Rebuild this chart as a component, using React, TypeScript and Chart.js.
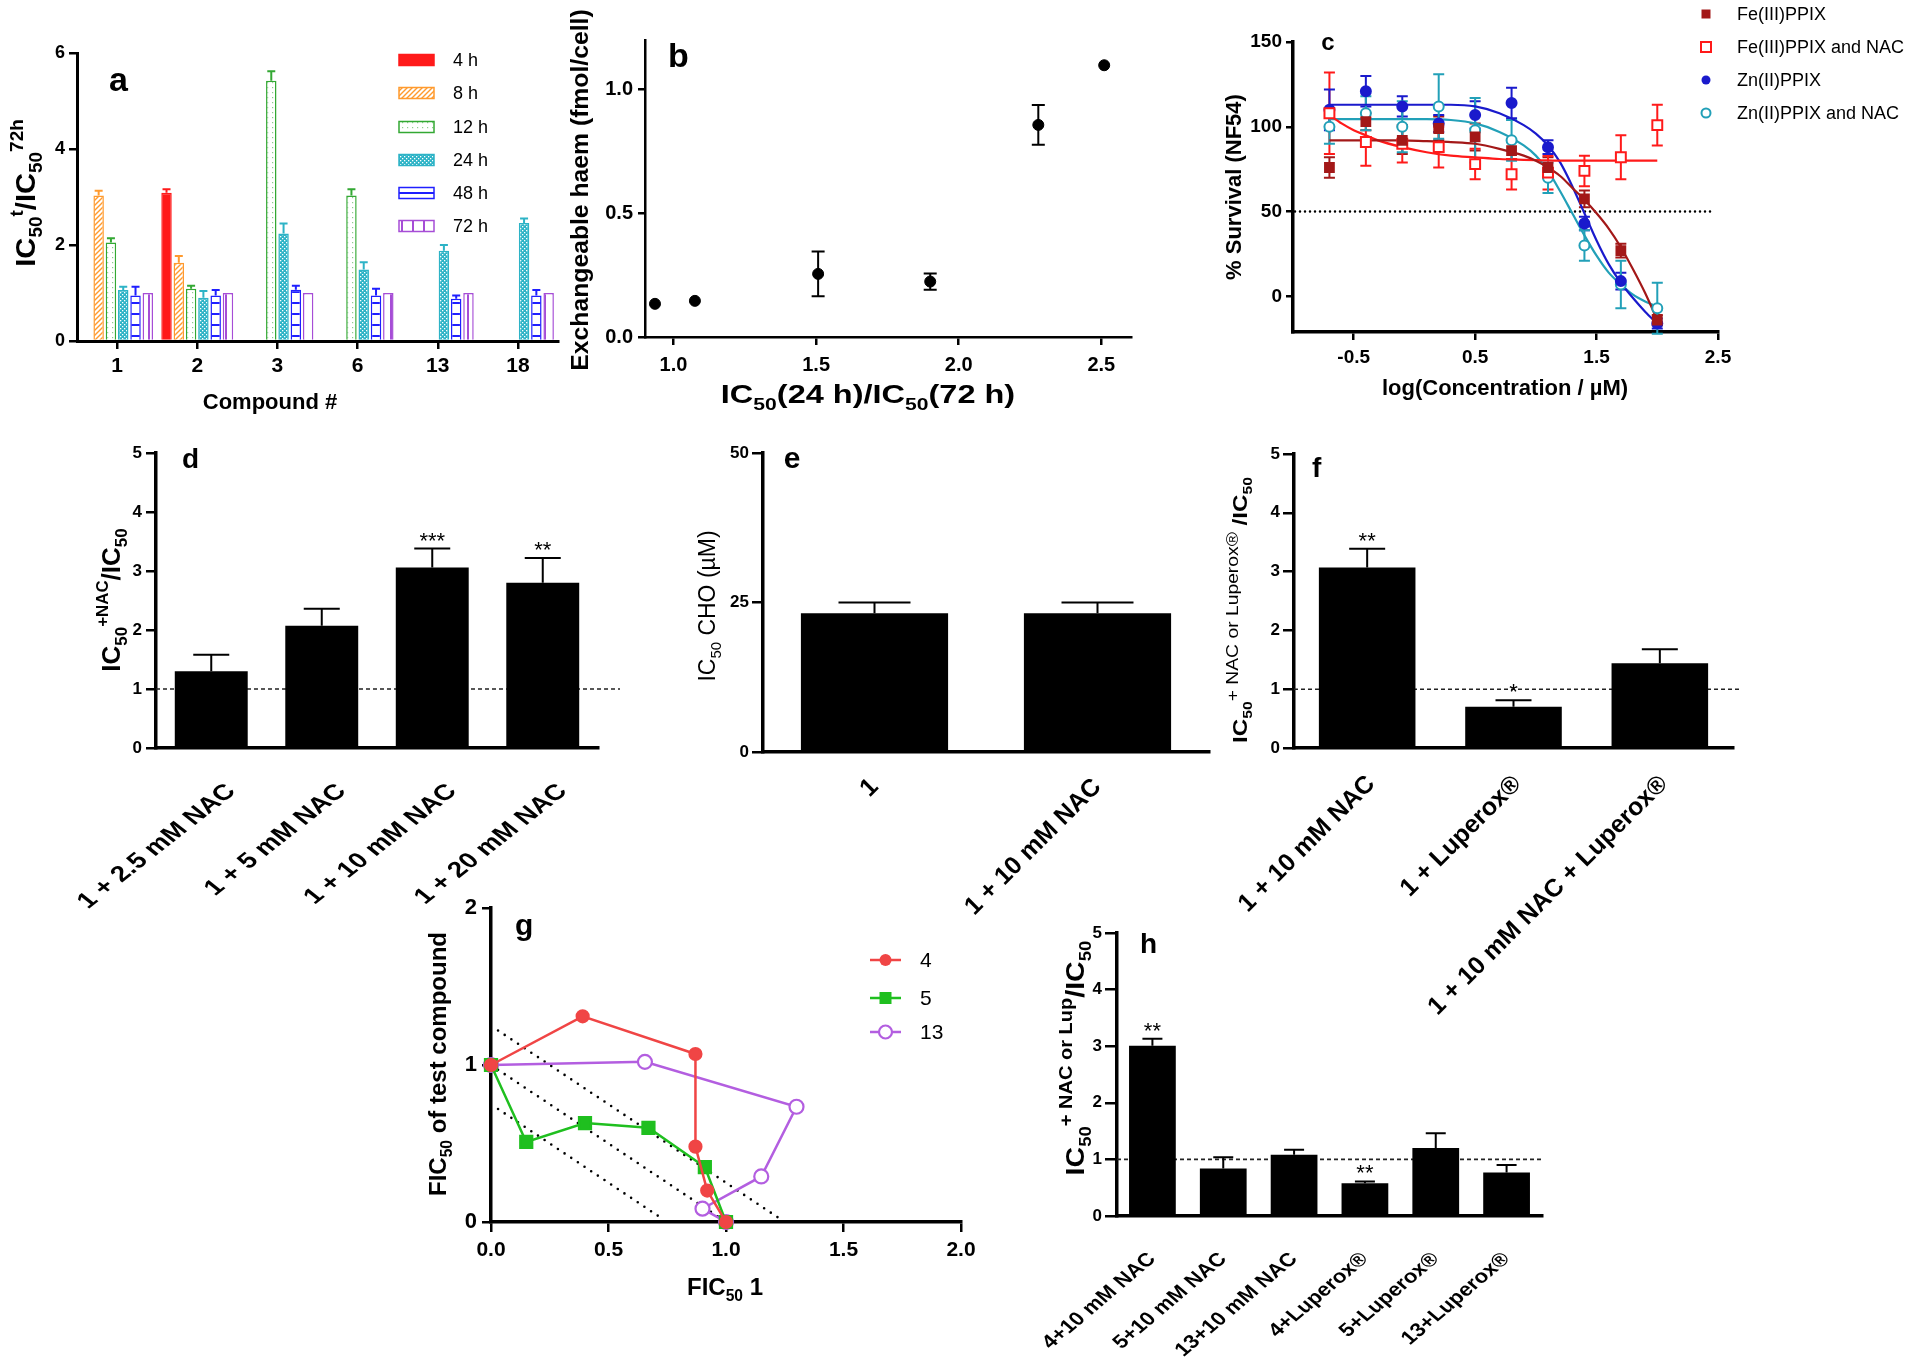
import React, { useEffect, useRef } from 'react';
import { Chart, registerables } from 'chart.js';

Chart.register(...registerables);

const FONT = "'Liberation Sans', Arial, Helvetica, sans-serif";

/* ================= DATA ================= */
// (a) IC50(t)/IC50(72h)
const aCompounds = ['1', '2', '3', '6', '13', '18'];
const aTimes = ['4 h', '8 h', '12 h', '24 h', '48 h', '72 h'];
const a4h = [null, 3.09, null, null, null, null];
const a4hErr = [null, 3.16, null, null, null, null];
const a8h = [3.03, 1.63, null, null, null, null];
const a8hErr = [3.13, 1.77, null, null, null, null];
const a12h = [2.05, 1.09, 5.42, 3.03, null, null];
const a12hErr = [2.14, 1.15, 5.62, 3.16, null, null];
const a24h = [1.06, 0.9, 2.24, 1.49, 1.88, 2.46];
const a24hErr = [1.13, 1.04, 2.45, 1.64, 2.0, 2.55];
const a48h = [0.95, 0.95, 1.07, 0.95, 0.88, 0.95];
const a48hErr = [1.13, 1.06, 1.15, 1.09, 0.95, 1.06];
const a72h = [1, 1, 1, 1, 1, 1];
const aYTicks = [0, 2, 4, 6];

// (b) exchangeable haem
const bRatio = [0.935, 1.075, 1.507, 1.9, 2.279, 2.51];
const bHaem = [0.134, 0.146, 0.255, 0.224, 0.857, 1.098];
const bHaemErr = [0, 0, 0.09, 0.033, 0.08, 0];
const bXTicks = [1.0, 1.5, 2.0, 2.5];
const bYTicks = [0, 0.5, 1.0];

// (c) % survival
const cLegend = ['Fe(III)PPIX', 'Fe(III)PPIX and NAC', 'Zn(II)PPIX', 'Zn(II)PPIX and NAC'];
const cLogConc = [-0.7, -0.4, -0.1, 0.2, 0.5, 0.8, 1.1, 1.4, 1.7, 2.0];
const cFe = [76, 103, 92, 99, 94, 86, 76, 57.5, 27, -14];
const cFeErr = [6, 5, 8, 7, 8, 5, 6, 5, 4, 3];
const cFeNAC = [108, 91, 90, 88, 78, 72, 73, 74, 82, 101];
const cFeNACErr = [24, 14, 11, 12, 9, 9, 10, 9, 13, 12];
const cZn = [110, 121, 112, 102, 107, 114, 88, 43, 9, -16];
const cZnErr = [12, 9, 6, 5, 8, 9, 4, 4, 5, 3];
const cZnNAC = [100, 108, 100, 112, 98, 92, 70, 30, 7, -7];
const cZnNACErr = [10, 10, 15, 19, 19, 12, 9, 9, 14, 15];
const cFitX = [-0.7, -0.6, -0.5, -0.4, -0.3, -0.1, 0.1, 0.3, 0.5, 0.7, 0.9, 1.0, 1.1, 1.2, 1.3, 1.4, 1.5, 1.6, 1.7, 1.8, 1.9, 2.0];
const cFeFit = [92, 92, 92, 92, 92, 92, 91.5, 91, 90, 87, 83, 80, 76, 71, 64, 57, 49, 40, 29, 16, 2, -14];
const cFeNACFit = [107, 102, 98, 95, 92, 88, 85, 83, 82, 81, 80.5, 80.3, 80.2, 80, 80, 80, 80, 80, 80, 80, 80, 80];
const cZnFit = [113, 113, 113, 113, 113, 113, 113, 113, 112, 108, 101, 96, 89, 79, 65, 49, 33, 19, 8, -1, -9, -16];
const cZnNACFit = [104.5, 104.5, 104.5, 104.5, 104.5, 104.5, 104.5, 104, 102, 97, 89, 83, 74, 62, 49, 36, 24, 14, 7, 1, -3, -6];
const cRef = 50;
const cXTicks = [-0.5, 0.5, 1.5, 2.5];
const cYTicks = [0, 50, 100, 150];

// (d)
const dLabels = ['1 + 2.5 mM NAC', '1 + 5 mM NAC', '1 + 10 mM NAC', '1 + 20 mM NAC'];
const dValues = [1.3, 2.07, 3.06, 2.8];
const dErrTop = [1.58, 2.36, 3.38, 3.22];
const dStars = ['', '', '***', '**'];
const dRef = 1;

// (e)
const eLabels = ['1', '1 + 10 mM NAC'];
const eValues = [23.2, 23.2];
const eErrTop = [25.0, 25.0];

// (f)
const fLabels = ['1 + 10 mM NAC', '1 + Luperox®', '1 + 10 mM NAC + Luperox®'];
const fValues = [3.07, 0.7, 1.44];
const fErrTop = [3.39, 0.81, 1.68];
const fStars = ['**', '*', ''];
const fRef = 1;

// (g) isobologram
const gLegend = ['4', '5', '13'];
const g4X = [0, 0.39, 0.87, 0.87, 0.92, 1.0];
const g4Y = [1, 1.31, 1.07, 0.48, 0.2, 0];
const g5X = [0, 0.15, 0.4, 0.67, 0.91, 1.0];
const g5Y = [1, 0.51, 0.63, 0.6, 0.35, 0];
const g13X = [0, 0.655, 1.3, 1.15, 0.9, 1.0];
const g13Y = [1, 1.02, 0.734, 0.29, 0.085, 0];
const gIsoX = [[0.03, 1.23], [0.03, 0.97], [0.03, 0.73]];
const gIsoY = [[1.22, 0.02], [0.97, 0.03], [0.72, 0.02]];
const gXTicks = [0, 0.5, 1.0, 1.5, 2.0];
const gYTicks = [0, 1, 2];

// (h)
const hLabels = ['4+10 mM NAC', '5+10 mM NAC', '13+10 mM NAC', '4+Luperox®', '5+Luperox®', '13+Luperox®'];
const hValues = [3.01, 0.84, 1.08, 0.58, 1.2, 0.77];
const hErrTop = [3.13, 1.04, 1.17, 0.61, 1.46, 0.9];
const hStars = ['**', '', '', '**', '', ''];
const hRef = 1;

/* ================= GEOMETRY ================= */
const BOX: any = {
  a: { l: 0, t: 0, w: 600, h: 430 },
  b: { l: 560, t: 0, w: 600, h: 430 },
  c: { l: 1180, t: 0, w: 740, h: 430 },
  d: { l: 0, t: 430, w: 640, h: 500 },
  e: { l: 640, t: 430, w: 580, h: 500 },
  f: { l: 1200, t: 430, w: 600, h: 680 },
  g: { l: 400, t: 880, w: 620, h: 440 },
  h: { l: 1030, t: 900, w: 560, h: 469 },
};
const AREA: any = {
  a: { left: 77, top: 53, right: 558, bottom: 341 },
  b: { left: 645, top: 40, right: 1131, bottom: 337 },
  c: { left: 1293, top: 42, right: 1718, bottom: 332 },
  d: { left: 156, top: 453, right: 598, bottom: 748 },
  e: { left: 763, top: 453, right: 1209, bottom: 752 },
  f: { left: 1294, top: 454, right: 1733, bottom: 748 },
  g: { left: 491, top: 908, right: 961, bottom: 1222 },
  h: { left: 1117, top: 933, right: 1542, bottom: 1216 },
};
const KEYS = ['a', 'b', 'c', 'd', 'e', 'f', 'g', 'h'];

/* ================= HELPERS ================= */
type Seg = { t: string; k?: 'sub' | 'sup'; bold?: boolean; sc?: number };

function drawRich(ctx: any, segs: Seg[], x: number, y: number, size: number, opts: any = {}) {
  const rot = opts.rot || false;
  const align = opts.align || 'center';
  const stretch = opts.stretch || 1;
  const bold = opts.bold === undefined ? true : opts.bold;
  ctx.save();
  ctx.translate(x, y);
  if (rot) ctx.rotate(-Math.PI / 2);
  ctx.scale(stretch, 1);
  ctx.fillStyle = opts.color || '#000';
  ctx.textBaseline = 'alphabetic';
  ctx.textAlign = 'left';
  const fontOf = (s: Seg) => {
    const sz = s.k ? size * (s.sc || 0.65) : size;
    const b = s.bold === undefined ? bold : s.bold;
    return (b ? 'bold ' : '') + sz + 'px ' + FONT;
  };
  let total = 0;
  const widths = segs.map((s) => {
    ctx.font = fontOf(s);
    const w = ctx.measureText(s.t).width;
    total += w;
    return w;
  });
  let cx = align === 'center' ? -total / 2 : align === 'right' ? -total : 0;
  segs.forEach((s, i) => {
    ctx.font = fontOf(s);
    const dy = s.k === 'sub' ? size * 0.25 : s.k === 'sup' ? -size * 0.45 : 0;
    ctx.fillText(s.t, cx, dy);
    cx += widths[i];
  });
  ctx.restore();
}

function makePattern(kind: string, color: string, bg = '#ffffff') {
  const c = document.createElement('canvas');
  const s = kind === 'hlines' || kind === 'vlines' ? 11 : kind === 'check' ? 4 : 5;
  c.width = s;
  c.height = s;
  const x = c.getContext('2d') as CanvasRenderingContext2D;
  x.fillStyle = bg;
  x.fillRect(0, 0, s, s);
  x.strokeStyle = color;
  x.fillStyle = color;
  if (kind === 'diag') {
    x.lineWidth = 1.4;
    x.beginPath();
    x.moveTo(-1, s + 1);
    x.lineTo(s + 1, -1);
    x.moveTo(-1, 1);
    x.lineTo(1, -1);
    x.moveTo(s - 1, s + 1);
    x.lineTo(s + 1, s - 1);
    x.stroke();
  } else if (kind === 'dots') {
    x.globalAlpha = 0.55;
    x.fillRect(2, 2, 1.2, 1.2);
  } else if (kind === 'check') {
    x.fillStyle = '#ffffff';
    x.fillRect(0, 0, 1.3, 1.3);
    x.fillRect(2, 2, 1.3, 1.3);
  } else if (kind === 'hlines') {
    x.fillRect(0, 5, s, 2);
  } else if (kind === 'vlines') {
    x.fillRect(5, 0, 2, s);
  }
  return x.createPattern(c, 'repeat');
}

function baseOptions(k: string) {
  const box = BOX[k];
  const area = AREA[k];
  return {
    responsive: false,
    animation: false,
    devicePixelRatio: 1,
    events: [],
    layout: { padding: { left: 0, bottom: 0, top: area.top - box.t, right: box.l + box.w - area.right } },
    plugins: { legend: { display: false }, tooltip: { enabled: false }, title: { display: false } },
  };
}

function yLinear(k: string, o: any) {
  const box = BOX[k];
  const area = AREA[k];
  return {
    type: 'linear',
    position: 'left',
    min: o.min,
    max: o.max,
    afterFit: (s: any) => {
      s.width = area.left - box.l;
    },
    afterBuildTicks: (s: any) => {
      s.ticks = o.ticks.map((v: number) => ({ value: v }));
    },
    border: { display: true, color: '#000', width: o.bw },
    grid: { display: true, drawOnChartArea: false, drawTicks: true, tickLength: o.tl, color: '#000', lineWidth: 2.5 },
    ticks: {
      color: '#000',
      padding: o.pad,
      autoSkip: false,
      font: { family: FONT, size: o.fs, weight: 'bold' },
      callback: (v: number) => (o.fmt ? o.fmt(v) : String(v)),
    },
  };
}

function xLinear(k: string, o: any) {
  const box = BOX[k];
  const area = AREA[k];
  return {
    type: 'linear',
    position: 'bottom',
    min: o.min,
    max: o.max,
    afterFit: (s: any) => {
      s.height = box.t + box.h - area.bottom;
    },
    afterBuildTicks: (s: any) => {
      s.ticks = o.ticks.map((v: number) => ({ value: v }));
    },
    border: { display: true, color: '#000', width: o.bw },
    grid: { display: true, drawOnChartArea: false, drawTicks: true, tickLength: o.tl, color: '#000', lineWidth: 2.5 },
    ticks: {
      color: '#000',
      padding: o.pad,
      autoSkip: false,
      maxRotation: 0,
      minRotation: 0,
      font: { family: FONT, size: o.fs, weight: 'bold' },
      callback: (v: number) => (o.fmt ? o.fmt(v) : String(v)),
    },
  };
}

function xCategory(k: string, o: any) {
  const box = BOX[k];
  const area = AREA[k];
  return {
    type: 'category',
    position: 'bottom',
    offset: true,
    afterFit: (s: any) => {
      s.height = box.t + box.h - area.bottom;
    },
    border: { display: true, color: '#000', width: o.bw },
    grid: {
      display: !!o.tl,
      offset: false,
      drawOnChartArea: false,
      drawTicks: true,
      tickLength: o.tl || 0,
      color: '#000',
      lineWidth: 2.5,
    },
    ticks: {
      display: o.show !== false,
      color: '#000',
      padding: o.pad || 0,
      autoSkip: false,
      minRotation: o.rot || 0,
      maxRotation: o.rot || 0,
      font: { family: FONT, size: o.fs || 12, weight: 'bold' },
    },
  };
}

const barErrPlugin = {
  id: 'barErr',
  afterDatasetsDraw(chart: any) {
    const ctx = chart.ctx;
    const ys = chart.scales.y;
    chart.data.datasets.forEach((ds: any, di: number) => {
      if (!ds.errTop) return;
      const meta = chart.getDatasetMeta(di);
      ctx.save();
      ctx.strokeStyle = ds.errColor || '#000';
      ctx.lineWidth = ds.errWidth || 2;
      ctx.setLineDash([]);
      meta.data.forEach((el: any, i: number) => {
        const v = ds.errTop[i];
        if (v === null || v === undefined || ds.data[i] === null) return;
        const yTop = ys.getPixelForValue(v);
        const cw = (ds.capW || 10) / 2;
        ctx.beginPath();
        ctx.moveTo(el.x, el.y);
        ctx.lineTo(el.x, yTop);
        ctx.moveTo(el.x - cw, yTop);
        ctx.lineTo(el.x + cw, yTop);
        ctx.stroke();
      });
      ctx.restore();
    });
  },
};

const scatterErrPlugin = {
  id: 'scatterErr',
  beforeDatasetsDraw(chart: any) {
    const ctx = chart.ctx;
    const ys = chart.scales.y;
    chart.data.datasets.forEach((ds: any, di: number) => {
      if (!ds.errY) return;
      const meta = chart.getDatasetMeta(di);
      ctx.save();
      ctx.strokeStyle = ds.errColor || '#000';
      ctx.lineWidth = ds.errWidth || 2;
      meta.data.forEach((pt: any, i: number) => {
        const e = ds.errY[i];
        if (!e) return;
        const v = ds.data[i].y;
        const y1 = ys.getPixelForValue(v + e);
        const y2 = ys.getPixelForValue(v - e);
        const cw = (ds.capW || 10) / 2;
        ctx.beginPath();
        ctx.moveTo(pt.x, y1);
        ctx.lineTo(pt.x, y2);
        ctx.moveTo(pt.x - cw, y1);
        ctx.lineTo(pt.x + cw, y1);
        ctx.moveTo(pt.x - cw, y2);
        ctx.lineTo(pt.x + cw, y2);
        ctx.stroke();
      });
      ctx.restore();
    });
  },
};

function deco(k: string, pre: ((ctx: any, chart: any, X: any, Y: any) => void) | null, post: (ctx: any, chart: any, X: any, Y: any) => void) {
  const box = BOX[k];
  const X = (px: number) => px - box.l;
  const Y = (py: number) => py - box.t;
  return {
    id: 'deco_' + k,
    beforeDatasetsDraw(chart: any) {
      if (pre) {
        chart.ctx.save();
        pre(chart.ctx, chart, X, Y);
        chart.ctx.restore();
      }
    },
    afterDraw(chart: any) {
      chart.ctx.save();
      post(chart.ctx, chart, X, Y);
      chart.ctx.restore();
    },
  };
}

function refLine(ctx: any, chart: any, value: number, xEnd: number) {
  const y = chart.scales.y.getPixelForValue(value);
  ctx.strokeStyle = '#222';
  ctx.lineWidth = 1.6;
  ctx.setLineDash([4, 3]);
  ctx.beginPath();
  ctx.moveTo(chart.chartArea.left, y);
  ctx.lineTo(xEnd, y);
  ctx.stroke();
  ctx.setLineDash([]);
}

function stars(ctx: any, chart: any, marks: string[], errTop: number[]) {
  const meta = chart.getDatasetMeta(0);
  const ys = chart.scales.y;
  ctx.fillStyle = '#000';
  ctx.font = '22px ' + FONT;
  ctx.textAlign = 'center';
  ctx.textBaseline = 'alphabetic';
  marks.forEach((m, i) => {
    if (!m) return;
    const el = meta.data[i];
    ctx.fillText(m, el.x, ys.getPixelForValue(errTop[i]) - 1);
  });
}

// category labels rotated 45 degrees, anchored by their end under each category tick
function rotLabels(ctx: any, chart: any, labels: string[], o: any) {
  const xs = chart.scales.x;
  ctx.fillStyle = '#000';
  ctx.font = 'bold ' + o.fs + 'px ' + FONT;
  ctx.textAlign = 'right';
  ctx.textBaseline = 'middle';
  labels.forEach((t, i) => {
    ctx.save();
    ctx.translate(xs.getPixelForTick(i) + o.dx, chart.chartArea.bottom + o.dy);
    ctx.scale(o.stretch || 1, 1);
    ctx.rotate(-Math.PI / 4);
    ctx.fillText(t, 0, 0);
    ctx.restore();
  });
}

function letter(ctx: any, t: string, x: number, y: number, size: number, align = 'left') {
  ctx.fillStyle = '#000';
  ctx.font = 'bold ' + size + 'px ' + FONT;
  ctx.textAlign = align;
  ctx.textBaseline = 'alphabetic';
  ctx.fillText(t, x, y);
}

/* ================= COMPONENT ================= */
export default function App() {
  const canvases = useRef<(HTMLCanvasElement | null)[]>([]);

  useEffect(() => {
    const charts: Chart[] = [];
    const cv = (k: string) => canvases.current[KEYS.indexOf(k)] as HTMLCanvasElement;

    /* ---------- (a) ---------- */
    const aStyle = [
      { bg: '#ff1a1a', bc: '#ff1a1a' },
      { bg: makePattern('diag', '#ff9a2e'), bc: '#ff9a2e' },
      { bg: makePattern('dots', '#33a833'), bc: '#33a833' },
      { bg: makePattern('check', '#2db3c6', '#2db3c6'), bc: '#2db3c6' },
      { bg: makePattern('hlines', '#1f1fff'), bc: '#1f1fff' },
      { bg: makePattern('vlines', '#a64dd6'), bc: '#a64dd6' },
    ];
    const aSeries = [a4h, a8h, a12h, a24h, a48h, a72h];
    const aErrs = [a4hErr, a8hErr, a12hErr, a24hErr, a48hErr, null];
    charts.push(
      new Chart(cv('a'), {
        type: 'bar',
        data: {
          labels: aCompounds,
          datasets: aSeries.map((d, i) => ({
            label: aTimes[i],
            data: d,
            errTop: aErrs[i],
            errColor: aStyle[i].bc,
            errWidth: 2,
            capW: 8,
            backgroundColor: aStyle[i].bg,
            borderColor: aStyle[i].bc,
            borderWidth: 1.5,
            barPercentage: 0.85,
            categoryPercentage: 0.92,
          })) as any,
        },
        options: {
          ...baseOptions('a'),
          scales: {
            x: xCategory('a', { bw: 3, tl: 8, pad: 5, rot: 0, fs: 21 }),
            y: yLinear('a', { min: 0, max: 6, ticks: aYTicks, bw: 3, tl: 8, pad: 4, fs: 18 }),
          },
        } as any,
        plugins: [
          barErrPlugin,
          deco('a', null, (ctx, chart, X, Y) => {
            letter(ctx, 'a', X(109), Y(91), 34);
            drawRich(
              ctx,
              [{ t: 'IC' }, { t: '50', k: 'sub' }, { t: 't', k: 'sup' }, { t: '/IC' }, { t: '50', k: 'sub' }, { t: '72h', k: 'sup' }],
              X(35),
              Y(193),
              27,
              { rot: true, stretch: 1.08 }
            );
            drawRich(ctx, [{ t: 'Compound #' }], X(270), Y(409), 22);
            const rows = [60, 93, 127, 160, 193, 226];
            chart.data.datasets.forEach((ds: any, i: number) => {
              ctx.fillStyle = ds.backgroundColor;
              ctx.fillRect(X(399), Y(rows[i] - 5.5), 35, 11);
              ctx.strokeStyle = ds.borderColor;
              ctx.lineWidth = 1.5;
              ctx.strokeRect(X(399), Y(rows[i] - 5.5), 35, 11);
              ctx.fillStyle = '#000';
              ctx.font = '18px ' + FONT;
              ctx.textAlign = 'left';
              ctx.textBaseline = 'middle';
              ctx.fillText(ds.label, X(453), Y(rows[i] + 1));
            });
          }),
        ],
      })
    );

    /* ---------- (b) ---------- */
    charts.push(
      new Chart(cv('b'), {
        type: 'scatter',
        data: {
          datasets: [
            {
              label: 'haem',
              data: bRatio.map((x, i) => ({ x, y: bHaem[i] })),
              errY: bHaemErr,
              errColor: '#000',
              errWidth: 2,
              capW: 13,
              pointRadius: 5.5,
              pointBackgroundColor: '#000',
              pointBorderColor: '#000',
              clip: false,
            },
          ] as any,
        },
        options: {
          ...baseOptions('b'),
          scales: {
            x: xLinear('b', { min: 0.9, max: 2.604, ticks: bXTicks, bw: 2.5, tl: 8, pad: 8, fs: 20, fmt: (v: number) => v.toFixed(1) }),
            y: yLinear('b', { min: 0, max: 1.2, ticks: bYTicks, bw: 2.5, tl: 7, pad: 5, fs: 20, fmt: (v: number) => v.toFixed(1) }),
          },
        } as any,
        plugins: [
          scatterErrPlugin,
          deco('b', null, (ctx, chart, X, Y) => {
            letter(ctx, 'b', X(668), Y(67), 34);
            drawRich(ctx, [{ t: 'Exchangeable haem (fmol/cell)' }], X(588), Y(190), 24, { rot: true, stretch: 1.03 });
            drawRich(
              ctx,
              [{ t: 'IC' }, { t: '50', k: 'sub' }, { t: '(24 h)/IC' }, { t: '50', k: 'sub' }, { t: '(72 h)' }],
              X(868),
              Y(403),
              26,
              { stretch: 1.25 }
            );
          }),
        ],
      })
    );

    /* ---------- (c) ---------- */
    const cCol = ['#a31818', '#ff1a1a', '#1a1acc', '#22a0b8'];
    const cPts = [cFe, cFeNAC, cZn, cZnNAC];
    const cErr = [cFeErr, cFeNACErr, cZnErr, cZnNACErr];
    const cFits = [cFeFit, cFeNACFit, cZnFit, cZnNACFit];
    const cMark = [
      { style: 'rect', r: 6.2, fill: true },
      { style: 'rect', r: 7, fill: false },
      { style: 'circle', r: 5, fill: true },
      { style: 'circle', r: 5, fill: false },
    ];
    const cDatasets: any[] = [];
    cPts.forEach((ys, i) => {
      cDatasets.push({
        label: cLegend[i],
        data: cLogConc.map((x, j) => ({ x, y: ys[j] })),
        errY: cErr[i],
        errColor: cCol[i],
        errWidth: 2,
        capW: 11,
        pointStyle: cMark[i].style,
        pointRadius: cMark[i].r,
        pointBackgroundColor: cMark[i].fill ? cCol[i] : '#ffffff',
        pointBorderColor: cCol[i],
        pointBorderWidth: 2,
        clip: false,
      });
    });
    cFits.forEach((ys, i) => {
      cDatasets.push({
        label: cLegend[i] + ' fit',
        data: cFitX.map((x, j) => ({ x, y: ys[j] })),
        showLine: true,
        pointRadius: 0,
        borderColor: cCol[i],
        borderWidth: 2.2,
        cubicInterpolationMode: 'monotone',
        clip: false,
      });
    });
    charts.push(
      new Chart(cv('c'), {
        type: 'scatter',
        data: { datasets: cDatasets },
        options: {
          ...baseOptions('c'),
          scales: {
            x: xLinear('c', { min: -1, max: 2.5, ticks: cXTicks, bw: 3.5, tl: 8, pad: 6, fs: 19 }),
            y: yLinear('c', { min: -21, max: 150, ticks: cYTicks, bw: 3.5, tl: 7, pad: 4, fs: 19 }),
          },
        } as any,
        plugins: [
          scatterErrPlugin,
          deco(
            'c',
            (ctx, chart) => {
              const y = chart.scales.y.getPixelForValue(cRef);
              ctx.strokeStyle = '#000';
              ctx.lineWidth = 2.5;
              ctx.lineCap = 'round';
              ctx.setLineDash([0, 5]);
              ctx.beginPath();
              ctx.moveTo(chart.chartArea.left + 2, y);
              ctx.lineTo(chart.scales.x.getPixelForValue(2.47), y);
              ctx.stroke();
            },
            (ctx, chart, X, Y) => {
              letter(ctx, 'c', X(1328), Y(50), 24, 'center');
              drawRich(ctx, [{ t: '% Survival (NF54)' }], X(1241), Y(187), 22, { rot: true });
              drawRich(ctx, [{ t: 'log(Concentration / µM)' }], X(1505), Y(395), 22);
              const rows = [14, 47, 80, 113];
              rows.forEach((ry, i) => {
                const x = X(1706);
                const y = Y(ry);
                ctx.lineWidth = 2;
                ctx.strokeStyle = cCol[i];
                ctx.fillStyle = cMark[i].fill ? cCol[i] : '#fff';
                ctx.beginPath();
                if (cMark[i].style === 'rect') {
                  const s = cMark[i].fill ? 4.5 : 5;
                  ctx.rect(x - s, y - s, 2 * s, 2 * s);
                } else {
                  ctx.arc(x, y, 4.5, 0, Math.PI * 2);
                }
                ctx.fill();
                if (!cMark[i].fill) ctx.stroke();
                ctx.fillStyle = '#000';
                ctx.font = '18px ' + FONT;
                ctx.textAlign = 'left';
                ctx.textBaseline = 'middle';
                ctx.fillText(cLegend[i], X(1737), y + 1);
              });
            }
          ),
        ],
      })
    );

    /* ---------- bar panels d, e, f, h ---------- */
    const barPanel = (k: string, labels: string[], values: number[], errTop: number[], o: any) =>
      new Chart(cv(k), {
        type: 'bar',
        data: {
          labels,
          datasets: [
            {
              label: k,
              data: values,
              errTop,
              errColor: '#000',
              errWidth: 2,
              capW: o.capW,
              backgroundColor: '#000',
              borderColor: '#000',
              borderWidth: 0,
              barPercentage: 0.66,
              categoryPercentage: 1,
            },
          ] as any,
        },
        options: {
          ...baseOptions(k),
          scales: {
            x: xCategory(k, { bw: 3.5, tl: 0, show: false }),
            y: yLinear(k, { min: 0, max: o.max, ticks: o.yticks, bw: 3.5, tl: o.tl, pad: o.ypad, fs: o.yfs }),
          },
        } as any,
        plugins: [
          barErrPlugin,
          deco(k, o.pre, (ctx: any, chart: any, X: any, Y: any) => {
            rotLabels(ctx, chart, labels, o.lab);
            o.post(ctx, chart, X, Y);
          }),
        ],
      });

    charts.push(
      barPanel('d', dLabels, dValues, dErrTop, {
        capW: 36,
        lab: { fs: 22, stretch: 1.27, dx: 20, dy: 40 },
        max: 5,
        yticks: [0, 1, 2, 3, 4, 5],
        tl: 10,
        ypad: 4,
        yfs: 17,
        pre: (ctx: any, chart: any, X: any) => refLine(ctx, chart, dRef, X(620)),
        post: (ctx: any, chart: any, X: any, Y: any) => {
          letter(ctx, 'd', X(182), Y(468), 28);
          drawRich(
            ctx,
            [{ t: 'IC' }, { t: '50', k: 'sub' }, { t: '+NAC', k: 'sup' }, { t: '/IC' }, { t: '50', k: 'sub' }],
            X(120),
            Y(600),
            26,
            { rot: true }
          );
          stars(ctx, chart, dStars, dErrTop);
        },
      })
    );

    charts.push(
      barPanel('e', eLabels, eValues, eErrTop, {
        capW: 72,
        lab: { fs: 25, stretch: 1, dx: 0, dy: 31 },
        max: 50,
        yticks: [0, 25, 50],
        tl: 11,
        ypad: 3,
        yfs: 17,
        pre: null,
        post: (ctx: any, chart: any, X: any, Y: any) => {
          letter(ctx, 'e', X(792), Y(468), 30, 'center');
          drawRich(ctx, [{ t: 'IC' }, { t: '50', k: 'sub' }, { t: ' CHO (µM)' }], X(715), Y(606), 23, { rot: true, bold: false });
        },
      })
    );

    charts.push(
      barPanel('f', fLabels, fValues, fErrTop, {
        capW: 36,
        lab: { fs: 25, stretch: 1, dx: 4, dy: 32 },
        max: 5,
        yticks: [0, 1, 2, 3, 4, 5],
        tl: 11,
        ypad: 3,
        yfs: 17,
        pre: (ctx: any, chart: any, X: any) => refLine(ctx, chart, fRef, X(1741)),
        post: (ctx: any, chart: any, X: any, Y: any) => {
          letter(ctx, 'f', X(1312), Y(477), 28);
          drawRich(
            ctx,
            [
              { t: 'IC' },
              { t: '50', k: 'sub' },
              { t: '+ NAC or Luperox®', k: 'sup', bold: false, sc: 0.8 },
              { t: ' /IC' },
              { t: '50', k: 'sub' },
            ],
            X(1247),
            Y(610),
            21,
            { rot: true, stretch: 1.15 }
          );
          stars(ctx, chart, fStars, fErrTop);
        },
      })
    );

    charts.push(
      barPanel('h', hLabels, hValues, hErrTop, {
        capW: 20,
        lab: { fs: 19, stretch: 1.18, dx: 0, dy: 40 },
        max: 5,
        yticks: [0, 1, 2, 3, 4, 5],
        tl: 12,
        ypad: 3,
        yfs: 17,
        pre: (ctx: any, chart: any, X: any) => refLine(ctx, chart, hRef, X(1542)),
        post: (ctx: any, chart: any, X: any, Y: any) => {
          letter(ctx, 'h', X(1140), Y(953), 28);
          drawRich(
            ctx,
            [{ t: 'IC' }, { t: '50', k: 'sub' }, { t: '+ NAC or Lup', k: 'sup', sc: 0.7 }, { t: '/IC' }, { t: '50', k: 'sub' }],
            X(1084),
            Y(1058),
            26,
            { rot: true, stretch: 1.1 }
          );
          stars(ctx, chart, hStars, hErrTop);
        },
      })
    );

    /* ---------- (g) ---------- */
    const gCol = ['#f04545', '#1fbf1f', '#b35ee0'];
    const gXs = [g4X, g5X, g13X];
    const gYs = [g4Y, g5Y, g13Y];
    const gMark = [
      { style: 'circle', r: 6, fill: true },
      { style: 'rect', r: 8.5, fill: true },
      { style: 'circle', r: 7, fill: false },
    ];
    const gDatasets: any[] = gXs.map((xs, i) => ({
      label: gLegend[i],
      data: xs.map((x, j) => ({ x, y: gYs[i][j] })),
      showLine: true,
      borderColor: gCol[i],
      borderWidth: 2.5,
      pointStyle: gMark[i].style,
      pointRadius: gMark[i].r,
      pointBackgroundColor: gMark[i].fill ? gCol[i] : '#ffffff',
      pointBorderColor: gCol[i],
      pointBorderWidth: 2.2,
      tension: 0,
      clip: false,
    }));
    gIsoX.forEach((xs, i) => {
      gDatasets.push({
        label: 'iso' + i,
        data: xs.map((x, j) => ({ x, y: gIsoY[i][j] })),
        showLine: true,
        borderColor: '#000',
        borderWidth: 2.6,
        borderDash: [0, 8],
        borderCapStyle: 'round',
        pointRadius: 0,
        clip: false,
      });
    });
    charts.push(
      new Chart(cv('g'), {
        type: 'scatter',
        data: { datasets: gDatasets },
        options: {
          ...baseOptions('g'),
          scales: {
            x: xLinear('g', { min: 0, max: 2, ticks: gXTicks, bw: 3.5, tl: 10, pad: 6, fs: 21, fmt: (v: number) => v.toFixed(1) }),
            y: yLinear('g', { min: 0, max: 2, ticks: gYTicks, bw: 3.5, tl: 9, pad: 5, fs: 22 }),
          },
        } as any,
        plugins: [
          deco('g', null, (ctx, chart, X, Y) => {
            letter(ctx, 'g', X(515), Y(935), 30);
            drawRich(ctx, [{ t: 'FIC' }, { t: '50', k: 'sub' }, { t: ' of test compound' }], X(446), Y(1064), 24, { rot: true });
            drawRich(ctx, [{ t: 'FIC' }, { t: '50', k: 'sub' }, { t: ' 1' }], X(725), Y(1295), 24);
            const rows = [960, 998, 1032];
            rows.forEach((ry, i) => {
              const y = Y(ry);
              ctx.strokeStyle = gCol[i];
              ctx.lineWidth = 2.5;
              ctx.beginPath();
              ctx.moveTo(X(870), y);
              ctx.lineTo(X(901), y);
              ctx.stroke();
              ctx.fillStyle = gMark[i].fill ? gCol[i] : '#fff';
              ctx.beginPath();
              if (gMark[i].style === 'rect') {
                ctx.rect(X(885.5) - 6, y - 6, 12, 12);
              } else {
                ctx.arc(X(885.5), y, gMark[i].fill ? 6 : 6.5, 0, Math.PI * 2);
              }
              ctx.fill();
              if (!gMark[i].fill) {
                ctx.lineWidth = 2.2;
                ctx.stroke();
              }
              ctx.fillStyle = '#000';
              ctx.font = '21px ' + FONT;
              ctx.textAlign = 'left';
              ctx.textBaseline = 'middle';
              ctx.fillText(gLegend[i], X(920), y + 1);
            });
          }),
        ],
      })
    );

    return () => {
      charts.forEach((c) => c.destroy());
    };
  }, []);

  return (
    <div style={{ position: 'absolute', left: 0, top: 0, width: 1920, height: 1369, background: '#ffffff', overflow: 'hidden' }}>
      {KEYS.map((k, i) => (
        <canvas
          key={k}
          ref={(el) => {
            canvases.current[i] = el;
          }}
          width={BOX[k].w}
          height={BOX[k].h}
          style={{ position: 'absolute', left: BOX[k].l, top: BOX[k].t, width: BOX[k].w, height: BOX[k].h, display: 'block' }}
        />
      ))}
    </div>
  );
}
